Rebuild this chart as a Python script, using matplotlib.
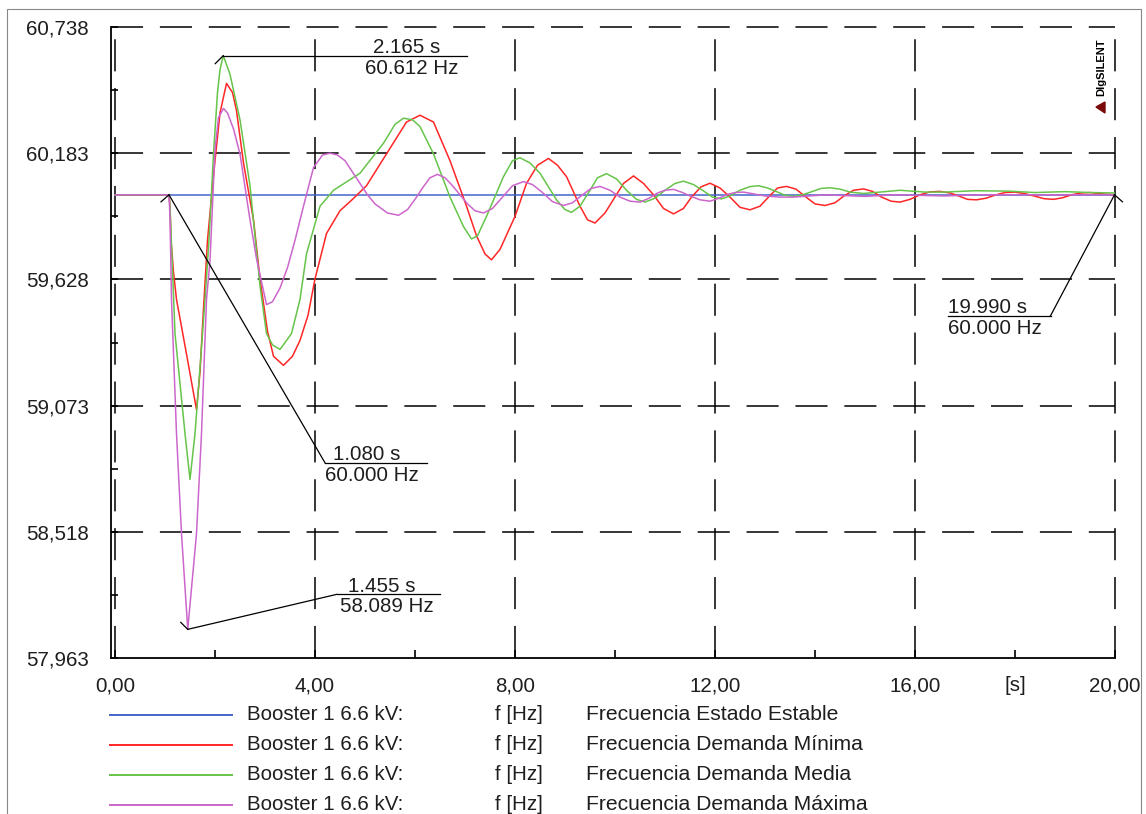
import matplotlib
matplotlib.use("Agg")
import matplotlib.pyplot as plt
from matplotlib.lines import Line2D
from matplotlib.patches import Polygon, Rectangle

plt.rcParams['font.family'] = ['Liberation Sans', 'DejaVu Sans']

# ---- data (time [s], frequency [Hz]) ----
t_estable = [0.0, 1.08, 20.0]
f_estable = [60.0, 60.0, 60.0]

t_minima = [0.0, 1.08, 1.10, 1.12, 1.17, 1.23, 1.43, 1.63, 1.70, 1.77, 1.85, 1.93,
            2.00, 2.10, 2.23, 2.35, 2.43, 2.57, 2.77, 2.90, 3.05, 3.17, 3.37, 3.55,
            3.70, 3.86, 4.00, 4.23, 4.50, 4.75, 5.03, 5.43, 5.83, 6.10, 6.37, 6.70,
            7.03, 7.23, 7.40, 7.53, 7.70, 8.00, 8.23, 8.45, 8.67, 8.85, 9.03, 9.30,
            9.45, 9.60, 9.80, 9.97, 10.17, 10.37, 10.57, 10.77, 10.97, 11.17, 11.37,
            11.53, 11.72, 11.90, 12.10, 12.30, 12.50, 12.70, 12.90, 13.07, 13.25,
            13.43, 13.62, 13.82, 14.00, 14.20, 14.40, 14.58, 14.77, 14.97, 15.15,
            15.33, 15.52, 15.70, 15.90, 16.10, 16.30, 16.50, 16.70, 16.87, 17.05,
            17.23, 17.42, 17.62, 17.80, 18.00, 18.20, 18.38, 18.58, 18.77, 18.95,
            19.13, 19.32, 19.50, 19.75, 20.0]
f_minima = [60.0, 60.0, 59.95, 59.80, 59.66, 59.54, 59.30, 59.055, 59.22, 59.50, 59.80, 59.99,
            60.15, 60.36, 60.49, 60.45, 60.37, 60.14, 59.89, 59.63, 59.40, 59.29, 59.25, 59.29,
            59.36, 59.47, 59.63, 59.83, 59.93, 59.98, 60.04, 60.18, 60.32, 60.35, 60.32, 60.15,
            59.95, 59.82, 59.74, 59.714, 59.76, 59.905, 60.05, 60.13, 60.16, 60.13, 60.08, 59.95,
            59.89, 59.876, 59.92, 59.98, 60.05, 60.083, 60.05, 60.0, 59.94, 59.916, 59.94,
            59.99, 60.035, 60.051, 60.03, 59.99, 59.945, 59.934, 59.95, 59.99, 60.03,
            60.037, 60.025, 59.99, 59.96, 59.953, 59.965, 59.995, 60.02, 60.026, 60.015,
            59.99, 59.972, 59.968, 59.98, 60.0, 60.013, 60.015, 60.008, 59.995, 59.98,
            59.978, 59.985, 60.0, 60.01, 60.012, 60.005, 59.995, 59.983, 59.98, 59.987,
            60.0, 60.008, 60.01, 60.004, 60.0]

t_media = [0.0, 1.08, 1.10, 1.13, 1.20, 1.40, 1.50, 1.60, 1.70, 1.80, 1.88, 1.97,
           2.05, 2.10, 2.165, 2.30, 2.50, 2.70, 2.90, 3.03, 3.15, 3.30, 3.53, 3.70,
           3.83, 4.10, 4.37, 4.90, 5.37, 5.60, 5.77, 5.95, 6.10, 6.37, 6.70, 6.97,
           7.13, 7.25, 7.43, 7.77, 7.95, 8.10, 8.30, 8.50, 8.83, 9.00, 9.13, 9.30,
           9.50, 9.65, 9.83, 10.03, 10.23, 10.43, 10.60, 10.80, 11.00, 11.20, 11.37,
           11.57, 11.75, 11.95, 12.13, 12.30, 12.50, 12.70, 12.87, 13.05, 13.22,
           13.40, 13.57, 13.75, 13.95, 14.12, 14.30, 14.50, 14.70, 14.97, 15.30,
           15.70, 16.20, 16.60, 17.20, 17.90, 18.40, 19.00, 19.50, 20.0]
f_media = [60.0, 60.0, 59.95, 59.78, 59.39, 58.95, 58.748, 58.95, 59.24, 59.54, 59.80, 60.18,
           60.45, 60.55, 60.612, 60.53, 60.33, 60.04, 59.60, 59.39, 59.34, 59.32, 59.39, 59.54,
           59.74, 59.95, 60.02, 60.095, 60.227, 60.31, 60.337, 60.33, 60.30, 60.18, 59.99, 59.86,
           59.806, 59.82, 59.905, 60.08, 60.15, 60.163, 60.14, 60.095, 59.978, 59.935, 59.923, 59.95,
           60.02, 60.075, 60.093, 60.07, 60.02, 59.98, 59.968, 59.985, 60.02, 60.05, 60.06,
           60.045, 60.02, 59.99, 59.982, 59.995, 60.02, 60.036, 60.04, 60.03, 60.015,
           59.998, 59.993, 60.0, 60.015, 60.028, 60.031, 60.025, 60.012, 60.006, 60.012,
           60.02, 60.012, 60.012, 60.018, 60.016, 60.01, 60.014, 60.01, 60.008]

t_maxima = [0.0, 1.08, 1.10, 1.13, 1.23, 1.33, 1.455, 1.63, 1.73, 1.83, 1.90, 2.00,
            2.07, 2.17, 2.25, 2.37, 2.50, 2.70, 2.83, 3.03, 3.15, 3.30, 3.45, 3.60,
            3.77, 3.97, 4.15, 4.30, 4.45, 4.60, 4.75, 4.90, 5.05, 5.20, 5.45, 5.67,
            5.85, 6.00, 6.15, 6.30, 6.45, 6.60, 6.75, 6.90, 7.05, 7.20, 7.37, 7.55,
            7.75, 7.95, 8.17, 8.35, 8.55, 8.75, 8.97, 9.15, 9.35, 9.52, 9.70, 9.90,
            10.10, 10.30, 10.50, 10.68, 10.85, 11.00, 11.17, 11.35, 11.50, 11.70,
            11.90, 12.08, 12.25, 12.40, 12.57, 12.80, 13.00, 13.30, 13.57, 13.90,
            14.20, 15.00, 15.60, 16.60, 17.30, 20.0]
f_maxima = [60.0, 60.0, 59.90, 59.54, 58.95, 58.51, 58.089, 58.51, 58.95, 59.54, 59.71, 60.20,
            60.34, 60.38, 60.36, 60.29, 60.18, 59.89, 59.72, 59.517, 59.53, 59.59, 59.68, 59.80,
            59.95, 60.12, 60.175, 60.183, 60.175, 60.15, 60.10, 60.05, 60.0, 59.96, 59.92, 59.91,
            59.935, 59.98, 60.03, 60.075, 60.09, 60.075, 60.04, 60.0, 59.96, 59.93, 59.92, 59.94,
            59.99, 60.04, 60.058, 60.045, 60.01, 59.97, 59.953, 59.965, 60.0, 60.028, 60.037, 60.02,
            59.99, 59.972, 59.968, 59.985, 60.008, 60.02, 60.024, 60.01, 59.995, 59.978,
            59.972, 59.985, 60.002, 60.01, 60.012, 60.003, 59.995, 59.99, 59.99, 59.995,
            60.0, 59.993, 60.0, 59.995, 60.0, 60.0]

series = [
    (t_estable, f_estable, '#4466cc', 'Frecuencia Estado Estable'),
    (t_minima, f_minima, '#ff2626', 'Frecuencia Demanda Mínima'),
    (t_media, f_media, '#66c44a', 'Frecuencia Demanda Media'),
    (t_maxima, f_maxima, '#cc66cc', 'Frecuencia Demanda Máxima'),
]

# marked points: time, value
mark_t = [2.165, 1.080, 1.455, 19.990]
mark_f = [60.612, 60.000, 58.089, 60.000]

y_ticks = [57.963, 58.518, 59.073, 59.628, 60.183, 60.738]
x_ticks = [0, 2, 4, 6, 8, 10, 12, 14, 16, 18, 20]

W, H = 1146, 814
fig = plt.figure(figsize=(W / 100, H / 100), dpi=100)
ax = fig.add_axes([111 / W, 1 - 658 / H, 1004 / W, 631 / H])
ax.set_xlim(-0.08, 20)
ax.set_ylim(57.963, 60.738)

TXT = '#1e1e1e'
FS = 14.8

# grid (dashed, drawn over the plot area edges too)
dash = (21, 11)
for yv in y_ticks[1:]:
    ax.axhline(yv, color='black', lw=1.1, dashes=dash, clip_on=False, zorder=1)
for xv in [0, 4, 8, 12, 16, 20]:
    ax.axvline(xv, color='black', lw=1.1, dashes=dash, clip_on=False, zorder=1)

for t, f, c, lab in series:
    ax.plot(t, f, color=c, lw=1.1, zorder=3)

for s in ['top', 'right']:
    ax.spines[s].set_visible(False)
for s in ['left', 'bottom']:
    ax.spines[s].set_linewidth(1.3)

ax.set_yticks(y_ticks)
ax.set_yticklabels([('%.3f' % v).replace('.', ',') for v in y_ticks])
mids = [(a + b) / 2 for a, b in zip(y_ticks[:-1], y_ticks[1:])]
ax.set_yticks(mids, minor=True)
ax.set_xticks(x_ticks)
xl = []
for v in x_ticks:
    if v == 18:
        xl.append('[s]')
    elif v % 4 == 0:
        xl.append(('%.2f' % v).replace('.', ','))
    else:
        xl.append('')
ax.set_xticklabels(xl)
ax.tick_params(axis='y', which='both', direction='in', length=5, width=1.2,
               pad=16, labelsize=FS, labelcolor=TXT)
ax.tick_params(axis='x', direction='in', length=6, width=1.2, pad=13,
               labelsize=FS, labelcolor=TXT)

fig.canvas.draw()
to_fig = fig.transFigure.inverted()


def px(xd, yd):
    # display pixels (origin bottom-left) -> figure fraction
    return to_fig.transform((xd, yd))


def fig_line(p0, p1, **kw):
    (x0, y0), (x1, y1) = px(*p0), px(*p1)
    fig.add_artist(Line2D([x0, x1], [y0, y1], transform=fig.transFigure, **kw))


# layout of the value labels: knee offset, underline length, text x offsets, hook
label_layout = [
    dict(knee=(0, 0), under=244, ts=150, tf=142, hook=(-8, -8)),
    dict(knee=(156, -268), under=102, ts=8, tf=0, hook=(-8, -7)),
    dict(knee=(149, 35), under=103, ts=11, tf=3, hook=(-7, 7)),
    dict(knee=(-64, -121), under=-103, ts=-103, tf=-103, hook=(8, -7)),
]
for t, f, lay in zip(mark_t, mark_f, label_layout):
    xd, yd = ax.transData.transform((t, f))
    kx, ky = xd + lay['knee'][0], yd + lay['knee'][1]
    ex = kx + lay['under']
    fig_line((xd, yd), (kx, ky), color='black', lw=0.9, zorder=5)
    fig_line((kx, ky), (ex, ky), color='black', lw=0.9, zorder=5)
    fig_line((xd, yd), (xd + lay['hook'][0], yd + lay['hook'][1]), color='black', lw=0.9)
    x_s, y_s = px(kx + lay['ts'], ky + 2.5)
    fig.text(x_s, y_s, '%.3f s' % t, fontsize=FS, color=TXT, ha='left', va='baseline')
    x_f, y_f = px(kx + lay['tf'], ky - 3)
    fig.text(x_f, y_f, '%.3f Hz' % f, fontsize=FS, color=TXT, ha='left', va='top')

# legend block under the plot
for i, (t, f, c, lab) in enumerate(series):
    yc = 1 - (715 + 30 * i) / H
    fig.add_artist(Line2D([110 / W, 232 / W], [yc, yc], color=c, lw=1.4,
                          transform=fig.transFigure))
    fig.text(247 / W, yc, 'Booster 1 6.6 kV:', fontsize=FS, color=TXT, va='center')
    fig.text(495 / W, yc, 'f [Hz]', fontsize=FS, color=TXT, va='center')
    fig.text(586 / W, yc, lab, fontsize=15.2, color=TXT, va='center')

# DIgSILENT mark
fig.text(1101 / W, 1 - 67 / H, 'DIgSILENT', rotation=90, fontsize=8,
         fontweight='bold', color='black', ha='center', va='center')
fig.add_artist(Polygon([[1096 / W, 1 - 107 / H], [1105 / W, 1 - 102 / H], [1105 / W, 1 - 113 / H]],
                       closed=True, color='#7a0a0a', transform=fig.transFigure))

# outer frame
fig.add_artist(Rectangle((7 / W, -0.02), (1141 - 7) / W, 1 - 9 / H + 0.02, fill=False,
                         edgecolor='#888888', lw=0.8, transform=fig.transFigure))

fig.savefig('out.png', dpi=100)
